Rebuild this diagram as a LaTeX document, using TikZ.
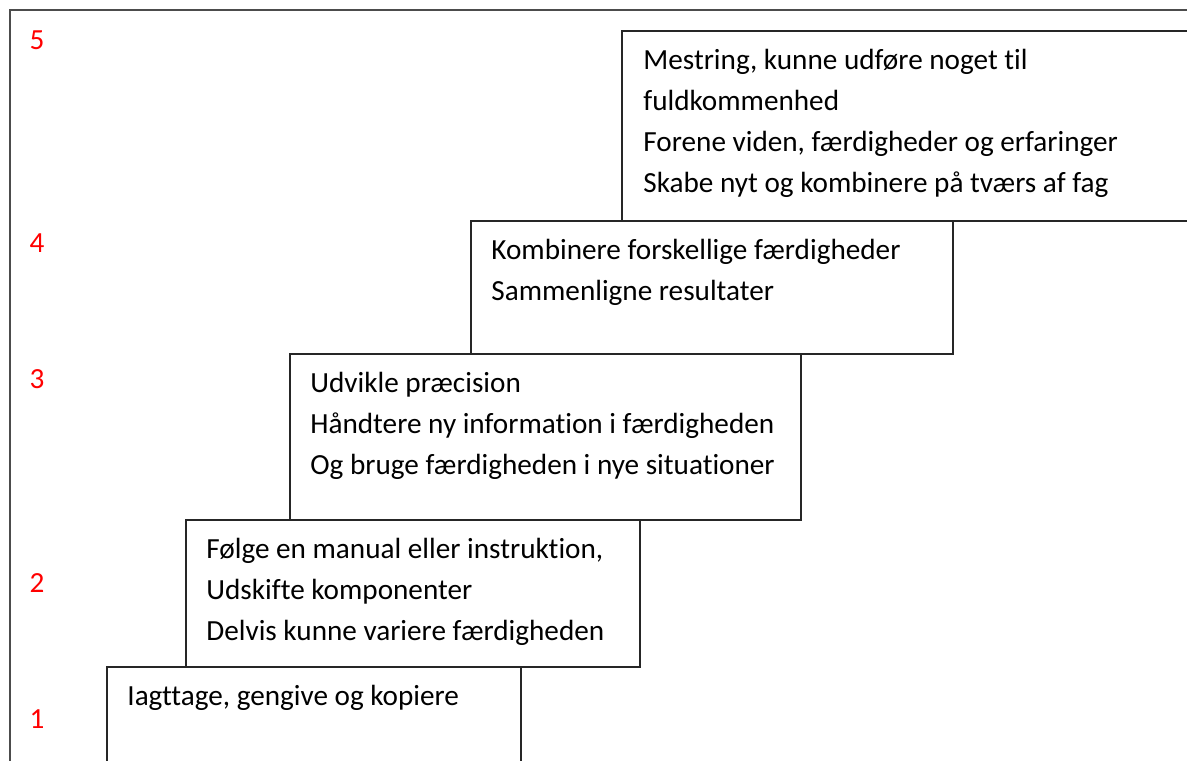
\documentclass[tikz,border=0pt]{standalone}
\usepackage{fontspec}
\setmainfont{Carlito}[Ligatures={NoCommon}]
\newcommand{\stepstrut}{\rule{0pt}{14pt}}

\begin{document}
\begin{tikzpicture}
[x=0.5pt,y=-0.5pt,
stepbox/.style={draw=black!85, rectangle, anchor=north west, inner sep=0pt, outer sep=0pt, line width=0.55pt},
steptext/.style={anchor=north west, align=left, inner sep=0pt, font=\fontsize{14.6pt}{20.55pt}\selectfont},
levelnum/.style={anchor=base, inner sep=0pt, text=red, font=\fontsize{14.6pt}{20.55pt}\selectfont}]
\useasboundingbox (0,0) rectangle (1187,760);
\fill[white] (0,0) rectangle (1187,760);
\clip (0,0) rectangle (1187,760);

\node[stepbox, draw=black!70, line width=0.9pt, minimum width=620pt, minimum height=400pt] (frame) at (10,10) {};

\node[stepbox, minimum width=300pt, minimum height=95pt] (s5) at (622,31) {};
\node[stepbox, minimum width=241pt, minimum height=66.5pt] (s4) at (471,221) {};
\node[stepbox, minimum width=255.5pt, minimum height=83pt] (s3) at (290,354) {};
\node[stepbox, minimum width=227pt, minimum height=73.5pt] (s2) at (186,520) {};
\node[stepbox, minimum width=207pt, minimum height=60pt] (s1) at (107,667) {};

\node[steptext] (t5) at ([xshift=10.5pt,yshift=-5pt]s5.north west)
  {\stepstrut Mestring, kunne udføre noget til\\fuldkommenhed\\Forene viden, færdigheder og erfaringer\\Skabe nyt og kombinere på tværs af fag};
\node[steptext] (t4) at ([xshift=10pt,yshift=-5pt]s4.north west)
  {\stepstrut Kombinere forskellige færdigheder\\Sammenligne resultater};
\node[steptext] (t3) at ([xshift=10pt,yshift=-5pt]s3.north west)
  {\stepstrut Udvikle præcision\\Håndtere ny information i færdigheden\\Og bruge færdigheden i nye situationer};
\node[steptext] (t2) at ([xshift=10pt,yshift=-5pt]s2.north west)
  {\stepstrut Følge en manual eller instruktion,\\Udskifte komponenter\\Delvis kunne variere færdigheden};
\node[steptext] (t1) at ([xshift=10pt,yshift=-5pt]s1.north west)
  {\stepstrut Iagttage, gengive og kopiere};

% level numbers
\node[levelnum] (n5) at (37,49) {5};
\node[levelnum] (n4) at (37,252) {4};
\node[levelnum] (n3) at (37,388) {3};
\node[levelnum] (n2) at (37,592) {2};
\node[levelnum] (n1) at (37,728) {1};
\end{tikzpicture}
\end{document}
